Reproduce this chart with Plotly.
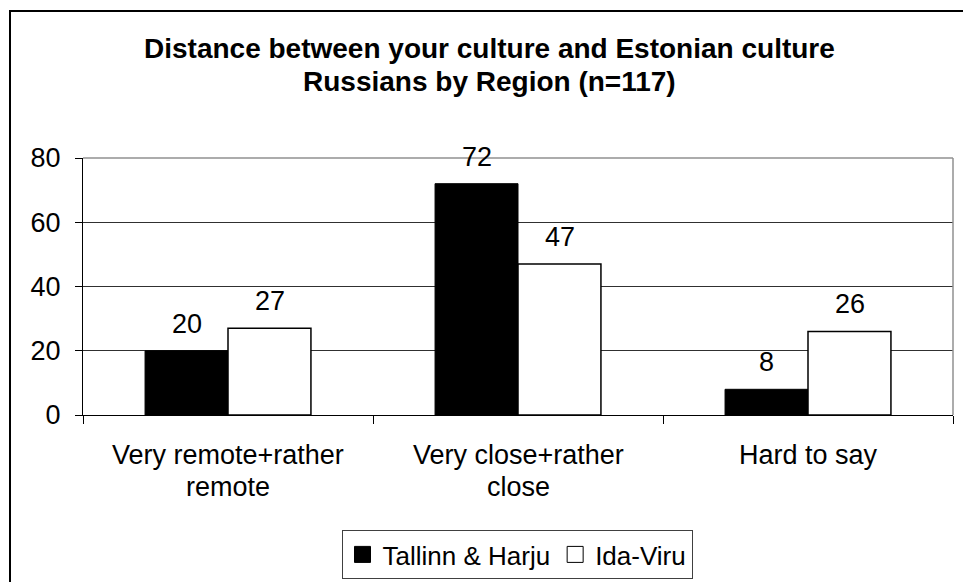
import plotly.graph_objects as go

categories = ["Very remote+rather remote", "Very close+rather close", "Hard to say"]
cat_lines = [["Very remote+rather", "remote"], ["Very close+rather", "close"], ["Hard to say"]]
tallinn = [20, 72, 8]
idaviru = [27, 47, 26]
series_names = ["Tallinn & Harju", "Ida-Viru"]
title_lines = ["Distance between your culture and Estonian culture", "Russians by Region (n=117)"]
yticks = [0, 20, 40, 60, 80]

FONT = "Arial, Liberation Sans, sans-serif"
FS = 27
W, H = 963, 582
L, R, T, B = 83, 10, 158, 167
pw, ph = W - L - R, H - T - B

def px2x(px):
    return (px - L) / pw

def py2y(py):
    return (H - B - py) / ph

fig = go.Figure()
fig.add_trace(go.Bar(x=categories, y=tallinn, name=series_names[0], showlegend=False,
                     marker=dict(color="black", line=dict(color="black", width=1))))
fig.add_trace(go.Bar(x=categories, y=idaviru, name=series_names[1], showlegend=False,
                     marker=dict(color="white", line=dict(color="black", width=1.5))))
# legend entries (square keys like the reference)
for name, col in zip(series_names, ["black", "white"]):
    fig.add_trace(go.Scatter(x=[None], y=[None], mode="markers", name=name,
                             marker=dict(symbol="square", size=16, color=col,
                                         line=dict(color="black", width=1))))

annotations = []
for i, t in enumerate(title_lines):
    annotations.append(dict(text="<b>%s</b>" % t, xref="paper", yref="paper",
                            x=px2x(489), y=py2y([49, 82][i]), xanchor="center", yanchor="middle",
                            showarrow=False, font=dict(family=FONT, size=28, color="black")))
for vals, shift in ((tallinn, -41.5), (idaviru, 41.5)):
    for c, v in zip(categories, vals):
        annotations.append(dict(text=str(v), x=c, y=v, xref="x", yref="y", xshift=shift,
                                yanchor="bottom", yshift=10, showarrow=False,
                                font=dict(family=FONT, size=FS, color="black")))
for c, lines in zip(categories, cat_lines):
    for j, ln in enumerate(lines):
        annotations.append(dict(text=ln, x=c, xref="x", yref="paper", y=py2y(455 + 32 * j),
                                yanchor="middle", showarrow=False,
                                font=dict(family=FONT, size=FS, color="black")))

shapes = [
    dict(type="rect", xref="paper", yref="paper", x0=px2x(10), x1=px2x(1000), y0=py2y(700), y1=py2y(11),
         line=dict(color="black", width=2), fillcolor="rgba(0,0,0,0)", layer="below"),
    dict(type="line", xref="paper", yref="paper", x0=0, x1=1, y0=1, y1=1,
         line=dict(color="#909090", width=1.5), layer="above"),
    dict(type="line", xref="paper", yref="paper", x0=1, x1=1, y0=0, y1=1,
         line=dict(color="#909090", width=1.5), layer="above"),
]

fig.update_layout(
    width=W, height=H,
    margin=dict(l=L, r=R, t=T, b=B, autoexpand=False),
    paper_bgcolor="white", plot_bgcolor="white",
    barmode="group", bargap=0.428, bargroupgap=0,
    font=dict(family=FONT, size=FS, color="black"),
    showlegend=True,
    legend=dict(orientation="h", x=px2x(517), xanchor="center", y=py2y(530), yanchor="top",
                bordercolor="#404040", borderwidth=1, font=dict(family=FONT, size=26, color="black"),
                tracegroupgap=0, itemwidth=30, itemsizing="trace"),
    annotations=annotations,
    shapes=shapes,
    xaxis=dict(showticklabels=False, ticks="outside", tickson="boundaries", ticklen=8,
               tickcolor="black", showline=True, linecolor="black", linewidth=1,
               showgrid=False, zeroline=False, automargin=False),
    yaxis=dict(range=[0, 80], tickvals=yticks, ticks="outside", ticklen=7, tickcolor="black",
               showline=True, linecolor="black", linewidth=1, showgrid=True, gridcolor="#303030",
               gridwidth=1, zeroline=False, tickfont=dict(family=FONT, size=FS, color="black"),
               ticklabelstandoff=9, automargin=False),
)

fig.write_html("out.html", config={"displayModeBar": False},
               post_script="document.body.style.margin='0';")
